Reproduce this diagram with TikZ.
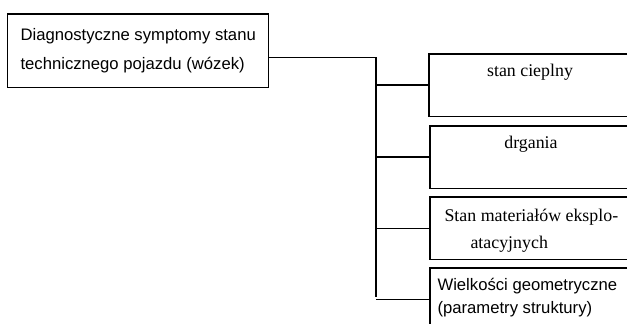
\documentclass[tikz,border=0pt]{standalone}
\usepackage{fontspec}
\setmainfont{Liberation Serif}
\setsansfont{Liberation Sans}
\usetikzlibrary{positioning}

\tikzset{
  cell/.style={anchor=north west,minimum width=185pt,minimum height=45.75pt,inner sep=0pt},
  serif/.style={font=\fontsize{13.4}{20.25}\selectfont,inner sep=0pt,align=left},
  sans/.style={font=\sffamily\fontsize{12.5}{16.9}\selectfont,inner sep=0pt,align=left}
}

\begin{document}
\begin{tikzpicture}[x=0.75pt,y=-0.75pt,line width=0.8pt]
\useasboundingbox (0,0) rectangle (628,324);
\clip (0,0) rectangle (628,324);
% root box
\node[draw,anchor=north west,align=left,inner xsep=9.75pt,minimum width=195pt,minimum height=55pt,
  font=\sffamily\fontsize{12.5}{21.75}\selectfont] (symptoms) at (7,13.5)
  {Diagnostyczne symptomy stanu\\technicznego pojazdu (wózek)};
% symptom groups (cut off at the page edge)
\coordinate (edge) at (627,0);
\node[cell] (heat) at (429,54) {};
\node[cell] (vib) at (430,126) {};
\node[cell] (fluid) at (430,197) {};
\node[cell] (geom) at (430,268) {};
\foreach \grp in {heat,vib,fluid,geom}
  \draw (\grp.north west -| edge) -- (\grp.north west) -- (\grp.south west) -- (\grp.south west -| edge);
\node[serif,anchor=base] (heattxt) at (530,76.7) {stan cieplny};
\node[serif,anchor=base] (vibtxt) at (531,149) {drgania};
\node[serif,anchor=base west] (fluidtxt) at (444,248.5) {Stan materiałów eksplo-\\\hspace*{19.5pt}atacyjnych};
\node[sans,anchor=base west] (geomtxt) at (437,313.5) {Wielkości geometryczne\\(parametry struktury)};
% connectors
\coordinate (bus) at (376,297);
\draw ([yshift=-4.9pt]symptoms.east) -| (bus);
\foreach \grp in {heat,vib,fluid,geom}
  \draw (\grp.west) -- (\grp.west -| bus);
\end{tikzpicture}
\end{document}
